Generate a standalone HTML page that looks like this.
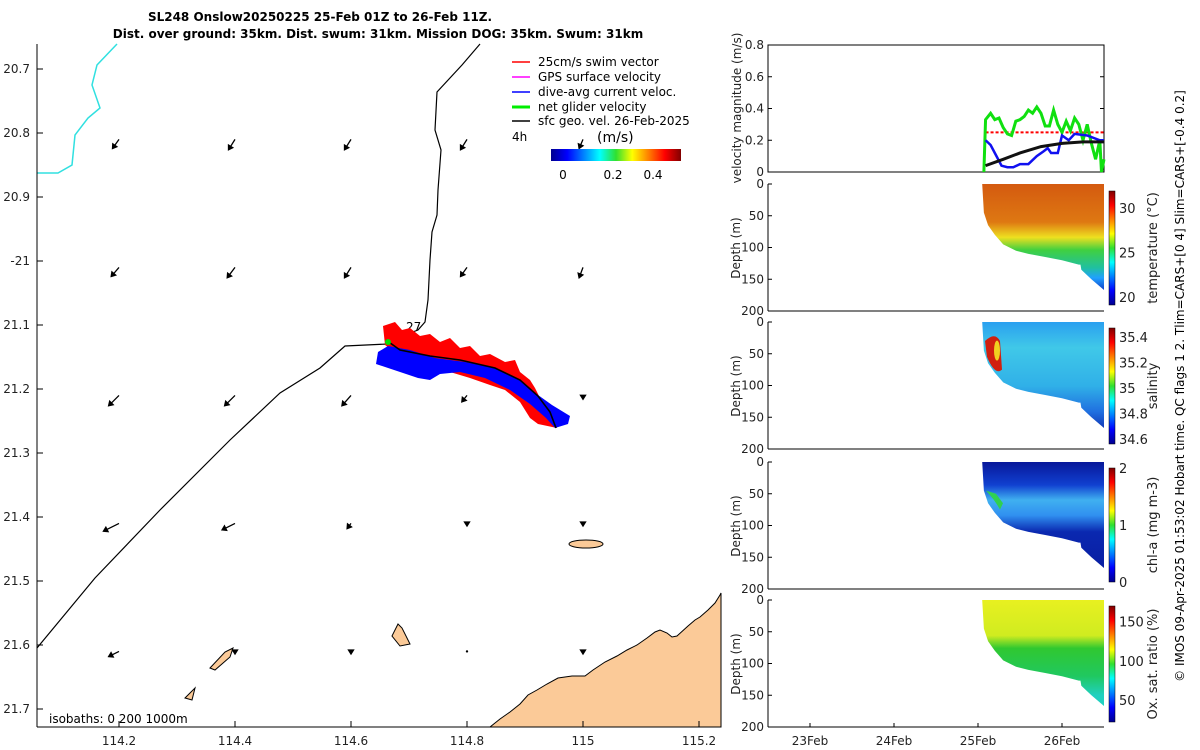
<!DOCTYPE html>
<html><head><meta charset="utf-8"><style>
html,body{margin:0;padding:0;background:#fff}
svg{display:block;font-family:"DejaVu Sans","Liberation Sans",sans-serif}
</style></head><body>
<svg id="fig" width="1200" height="750" viewBox="0 0 1200 750">
<defs>
<linearGradient id="jet" x1="0" x2="1" y1="0" y2="0">
<stop offset="0" stop-color="#00008f"/><stop offset="0.125" stop-color="#0000ff"/><stop offset="0.375" stop-color="#00ffff"/><stop offset="0.5" stop-color="#30e030"/><stop offset="0.625" stop-color="#ffff00"/><stop offset="0.875" stop-color="#ff0000"/><stop offset="1" stop-color="#800000"/></linearGradient>
<linearGradient id="jetv" x1="0" x2="0" y1="1" y2="0">
<stop offset="0" stop-color="#00008f"/><stop offset="0.125" stop-color="#0000ff"/><stop offset="0.375" stop-color="#00ffff"/><stop offset="0.5" stop-color="#30e030"/><stop offset="0.625" stop-color="#ffff00"/><stop offset="0.875" stop-color="#ff0000"/><stop offset="1" stop-color="#800000"/></linearGradient>
<linearGradient id="gT" gradientUnits="userSpaceOnUse" x1="0" x2="0" y1="184" y2="311">
<stop offset="0" stop-color="#d45a10"/><stop offset="0.3" stop-color="#de7812"/><stop offset="0.42" stop-color="#eee020"/><stop offset="0.52" stop-color="#40d040"/><stop offset="0.66" stop-color="#20c0a0"/><stop offset="0.74" stop-color="#20a0ff"/><stop offset="0.85" stop-color="#1030c0"/></linearGradient>
<linearGradient id="gS" gradientUnits="userSpaceOnUse" x1="0" x2="0" y1="322" y2="450">
<stop offset="0" stop-color="#2aa0f0"/><stop offset="0.2" stop-color="#40c8e8"/><stop offset="0.5" stop-color="#30b0e8"/><stop offset="0.7" stop-color="#2070e0"/><stop offset="0.85" stop-color="#1030b0"/></linearGradient>
<linearGradient id="gC" gradientUnits="userSpaceOnUse" x1="0" x2="0" y1="462" y2="589">
<stop offset="0" stop-color="#08189a"/><stop offset="0.18" stop-color="#1040d0"/><stop offset="0.3" stop-color="#40b0f0"/><stop offset="0.42" stop-color="#3090f0"/><stop offset="0.55" stop-color="#0a28b0"/><stop offset="1" stop-color="#08189a"/></linearGradient>
<linearGradient id="gO" gradientUnits="userSpaceOnUse" x1="0" x2="0" y1="600" y2="727">
<stop offset="0" stop-color="#e8f020"/><stop offset="0.28" stop-color="#d0ec20"/><stop offset="0.38" stop-color="#30c830"/><stop offset="0.6" stop-color="#20c860"/><stop offset="0.75" stop-color="#20d0c0"/></linearGradient>
</defs>

<g font-weight="bold" font-size="12" text-anchor="middle">
<text x="320" y="21">SL248 Onslow20250225 25-Feb 01Z to 26-Feb 11Z.</text>
<text x="378" y="38">Dist. over ground: 35km. Dist. swum: 31km. Mission DOG: 35km. Swum: 31km</text>
</g>

<g id="map">
<polygon fill="#fbca98" stroke="#000" stroke-width="1" points="490,727 500,719 510,712 520,704 528,695 537,690 547,684 558,678 572,676 585,676 593,670 605,662 617,656 627,650 637,645 647,638 655,632 660,630 667,633 672,637 677,636 688,626 695,620 700,617 708,610 715,603 720,595 721,593 721,727"/>
<polyline fill="none" stroke="#30e0e0" stroke-width="1.5" points="117,44 97,65 92,85 100,108 88,118 75,135 72,165 58,173 37,173"/>
<polyline fill="none" stroke="#000" stroke-width="1.2" points="480,44 462,65 437,92 435,130 441,150 438,190 437,215 432,232 430,260 428,300 425,322 418,330 410,333 402,340 388,344 345,346 320,368 280,393 230,440 160,510 95,578 37,648"/>
<text x="406" y="331" font-size="12">27</text>
<ellipse cx="586" cy="544" rx="17" ry="4" fill="#fbca98" stroke="#000"/>
<path d="M210,668 L225,652 L233,648 L230,657 L215,670 Z" fill="#fbca98" stroke="#000"/>
<path d="M392,636 L398,624 L402,628 L410,644 L400,646 Z" fill="#fbca98" stroke="#000"/>
<path d="M185,698 L195,688 L192,700 Z" fill="#fbca98" stroke="#000"/>
<polygon fill="#ff0000" points="383,326 395,322 402,330 410,328 420,336 430,334 440,342 450,338 460,348 470,346 480,356 490,354 505,362 515,360 520,372 530,380 535,388 540,398 548,412 557,428 538,424 530,418 520,402 505,390 490,385 470,378 450,372 430,368 410,360 395,352 385,345"/>
<polygon fill="#0000ff" points="378,352 388,346 410,350 435,358 465,362 495,368 520,380 538,395 552,405 570,416 568,424 555,428 546,418 530,404 510,390 485,378 460,372 440,374 430,380 418,378 376,364"/>
<polyline fill="none" stroke="#000" stroke-width="1.6" points="386,340 400,350 430,356 460,360 495,368 520,380 538,396 550,412 556,428"/>
<circle cx="388" cy="342" r="3" fill="#00e000"/>
<g id="arrows"></g>
<line x1="37" y1="44" x2="37" y2="727" stroke="#000"/>
<line x1="37" y1="727" x2="721" y2="727" stroke="#000"/>
<g id="mapticks" font-size="12" fill="#222"></g>
<text x="49" y="723" font-size="12">isobaths: 0   200  1000m</text>
</g>

<g font-size="12">
<line x1="512" y1="62" x2="530" y2="62" stroke="#f00" stroke-width="1.5"/><text x="538" y="66">25cm/s swim vector</text>
<line x1="512" y1="77" x2="530" y2="77" stroke="#f0f" stroke-width="1.5"/><text x="538" y="81">GPS surface velocity</text>
<line x1="512" y1="92" x2="530" y2="92" stroke="#00f" stroke-width="1.5"/><text x="538" y="96">dive-avg current veloc.</text>
<line x1="512" y1="107" x2="530" y2="107" stroke="#0e0" stroke-width="3"/><text x="538" y="111">net glider velocity</text>
<line x1="512" y1="121" x2="530" y2="121" stroke="#000" stroke-width="1.5"/><text x="538" y="125">sfc geo. vel. 26-Feb-2025</text>
<text x="512" y="141">4h</text><text x="597" y="142" font-size="14">(m/s)</text>
<rect x="551" y="149" width="130" height="12" fill="url(#jet)"/>
<text x="563" y="179" text-anchor="middle">0</text><text x="613" y="179" text-anchor="middle">0.2</text><text x="653" y="179" text-anchor="middle">0.4</text>
</g>

<g id="right" font-size="12" fill="#222"></g>
<text font-size="12" transform="translate(1184,386) rotate(-90)" text-anchor="middle">© IMOS 09-Apr-2025 01:53:02 Hobart time. QC flags 1  2. Tlim=CARS+[0 4] Slim=CARS+[-0.4 0.2]</text>
</svg>
<script>
// velocity panel data (time in days of Feb, magnitude in m/s)
const greenT=[25.07,25.09,25.15,25.2,25.25,25.3,25.35,25.4,25.45,25.5,25.55,25.6,25.65,25.7,25.75,25.8,25.85,25.9,25.95,26.0,26.05,26.1,26.15,26.2,26.25,26.3,26.35,26.4,26.45,26.47,26.5];
const greenV=[0,0.33,0.37,0.33,0.34,0.28,0.24,0.23,0.32,0.33,0.35,0.39,0.37,0.41,0.37,0.29,0.29,0.39,0.3,0.25,0.32,0.26,0.34,0.3,0.2,0.3,0.18,0.08,0.2,0.0,0.08];
const blueT=[25.09,25.15,25.22,25.28,25.35,25.42,25.5,25.6,25.7,25.78,25.83,25.87,25.95,26.0,26.08,26.15,26.3,26.45,26.5];
const blueV=[0.2,0.17,0.1,0.04,0.03,0.03,0.05,0.05,0.1,0.13,0.15,0.12,0.12,0.23,0.2,0.24,0.23,0.2,0.2];
const blackT=[25.09,25.3,25.5,25.75,26.0,26.25,26.5];
const blackV=[0.04,0.08,0.12,0.16,0.18,0.19,0.19];
const redT=[25.09,26.5];
const redV=[0.25,0.25];
const dayTicks=[23,24,25,26];
const dayLabels=["23Feb","24Feb","25Feb","26Feb"];
const velTicks=[0,0.2,0.4,0.6,0.8];
const depthTicks=[0,50,100,150,200];
// section profile bottom (time, depth m)
const botT=[25.05,25.07,25.12,25.2,25.3,25.45,25.6,25.8,26.0,26.2,26.22,26.23,26.35,26.5];
const botD=[0,45,65,80,95,105,110,115,120,127,127,135,150,167];
// map lon/lat ticks
const lonTicks=[114.2,114.4,114.6,114.8,115,115.2];
const latTicks=[20.7,20.8,20.9,21,21.1,21.2,21.3,21.4,21.5,21.6,21.7];
const latLabels=["20.7","20.8","20.9","-21","21.1","21.2","21.3","21.4","21.5","21.6","21.7"];
// geostrophic arrows: u, v components (m/s)
const arrLon=[114.2,114.4,114.6,114.8,115.0];
const arrLat=[20.81,21.01,21.21,21.41,21.61];
const arrU=[[-0.05,-0.05,-0.05,-0.05,-0.03],[-0.06,-0.06,-0.05,-0.05,-0.03],[-0.08,-0.08,-0.07,-0.04,0],[-0.12,-0.1,-0.03,0,0],[-0.08,0,0,0,0]];
const arrV=[[-0.07,-0.08,-0.08,-0.08,-0.07],[-0.07,-0.08,-0.08,-0.07,-0.08],[-0.08,-0.08,-0.08,-0.05,-0.03],[-0.06,-0.05,-0.04,-0.02,-0.02],[-0.04,-0.02,-0.02,0,-0.02]];

const NS="http://www.w3.org/2000/svg";
function mk(p,tag,at,txt){const e=document.createElementNS(NS,tag);for(const k in at)e.setAttribute(k,at[k]);if(txt!==undefined)e.textContent=txt;p.appendChild(e);return e;}
const lonX=v=>119+(v-114.2)*580;
const latY=v=>69+(v-20.7)*640;
const dX=t=>768+(t-22.5)*84;

const mt=document.getElementById('mapticks');
lonTicks.forEach(v=>{const x=lonX(v);mk(mt,'line',{x1:x,x2:x,y1:727,y2:721,stroke:'#000'});
const t=mk(mt,'text',{x:x,y:745,'text-anchor':'middle'},String(v));

});
latTicks.forEach((v,i)=>{const y=latY(v);mk(mt,'line',{x1:37,x2:43,y1:y,y2:y,stroke:'#000'});
const t=mk(mt,'text',{x:30,y:y+4,'text-anchor':'end'},latLabels[i]);

});

const ag=document.getElementById('arrows');
arrLat.forEach((la,i)=>arrLon.forEach((lo,j)=>{const x=lonX(lo),y=latY(la);const u=arrU[i][j]*130,v=-arrV[i][j]*130;
const L=Math.hypot(u,v);if(L<1){mk(ag,'circle',{cx:x,cy:y,r:1.2,fill:'#000'});return;}
const x2=x+u,y2=y+v,ux=u/L,uy=v/L;
const a=mk(ag,'path',{d:`M${x},${y}L${x2},${y2}M${x2},${y2}L${x2-4*ux+2.5*uy},${y2-4*uy-2.5*ux}L${x2-4*ux-2.5*uy},${y2-4*uy+2.5*ux}Z`,stroke:'#000','stroke-width':1.3,fill:'#000'});

}));

const R=document.getElementById('right');
const vY=v=>172-v*158.75;
mk(R,'rect',{x:768,y:45,width:336,height:127,fill:'none',stroke:'#000'});
velTicks.forEach(v=>{const y=vY(v);mk(R,'line',{x1:768,x2:772,y1:y,y2:y,stroke:'#000'});mk(R,'line',{x1:1100,x2:1104,y1:y,y2:y,stroke:'#000'});
mk(R,'text',{x:764,y:y+4,'text-anchor':'end'},String(v));});
mk(R,'text',{transform:'translate(741,108) rotate(-90)','text-anchor':'middle'},'velocity magnitude (m/s)');
function series(T,V,col,w,name,dash){const p=mk(R,'polyline',{points:T.map((t,i)=>dX(t)+','+vY(V[i])).join(' '),fill:'none',stroke:col,'stroke-width':w});
if(dash)p.setAttribute('stroke-dasharray',dash);

}
series(redT,redV,'#f00',2,'swim-speed-line','3,2');
series(greenT,greenV,'#10e010',3,'net-glider-velocity-line');
series(blueT,blueV,'#1010f0',2.5,'current-velocity-line');
series(blackT,blackV,'#111',3,'geo-velocity-line');

const panels=[{top:184,fill:'url(#gT)',name:'temperature-section',cb:{t:191,b:305,lo:19.1,hi:31.9,ticks:[20,25,30],lab:'temperature (°C)'}},
{top:322,fill:'url(#gS)',name:'salinity-section',cb:{t:328,b:444,lo:34.56,hi:35.47,ticks:[34.6,34.8,35,35.2,35.4],lab:'salinity'}},
{top:462,fill:'url(#gC)',name:'chlorophyll-section',cb:{t:468,b:582,lo:0,hi:2,ticks:[0,1,2],lab:'chl-a (mg m-3)'}},
{top:600,fill:'url(#gO)',name:'oxygen-section',cb:{t:606,b:722,lo:22,hi:170,ticks:[50,100,150],lab:'Ox. sat. ratio (%)'}}];
panels.forEach((P,k)=>{const dY=d=>P.top+d*0.635;
mk(R,'line',{x1:768,x2:1104,y1:P.top+127,y2:P.top+127,stroke:'#000'});
mk(R,'line',{x1:768,x2:768,y1:P.top,y2:P.top+127,stroke:'#000'});
depthTicks.forEach(d=>{const y=dY(d);mk(R,'line',{x1:768,x2:772,y1:y,y2:y,stroke:'#000'});mk(R,'text',{x:764,y:y+4,'text-anchor':'end'},String(d));});
mk(R,'text',{transform:`translate(740,${P.top+64}) rotate(-90)`,'text-anchor':'middle'},'Depth (m)');
const pts=[dX(botT[0])+','+dY(0),dX(botT[botT.length-1])+','+dY(0)];
for(let i=botT.length-1;i>=0;i--)pts.push(dX(botT[i])+','+dY(botD[i]));
const s=mk(R,'polygon',{points:pts.join(' '),fill:P.fill});


if(k==1){mk(R,'path',{d:`M985,${dY(30)} Q995,${dY(15)} 1000,${dY(30)} L1002,${dY(75)} Q995,${dY(85)} 987,${dY(55)} Z`,fill:'#d02010'});mk(R,'ellipse',{cx:997,cy:dY(45),rx:3,ry:10,fill:'#f0d020'});}
if(k==2){mk(R,'path',{d:`M986,${dY(45)} Q995,${dY(60)} 1000,${dY(75)} L1003,${dY(65)} L996,${dY(50)} Z`,fill:'#30d050'});}
const c=P.cb,cy=v=>c.b-(v-c.lo)/(c.hi-c.lo)*(c.b-c.t);
const cbr=mk(R,'rect',{x:1109,y:c.t,width:6,height:c.b-c.t,fill:'url(#jetv)',stroke:'#000','stroke-width':0.5});


c.ticks.forEach(v=>{mk(R,'text',{x:1119,y:cy(v)+5,'font-size':13},String(v));});
mk(R,'text',{transform:`translate(1157,${(c.t+c.b)/2}) rotate(-90)`,'text-anchor':'middle','font-size':13},c.lab);
});
dayTicks.forEach((d,i)=>{const x=dX(d);mk(R,'line',{x1:x,x2:x,y1:727,y2:723,stroke:'#000'});
const t=mk(R,'text',{x:x,y:745,'text-anchor':'middle'},dayLabels[i]);

});
</script>
</body></html>
